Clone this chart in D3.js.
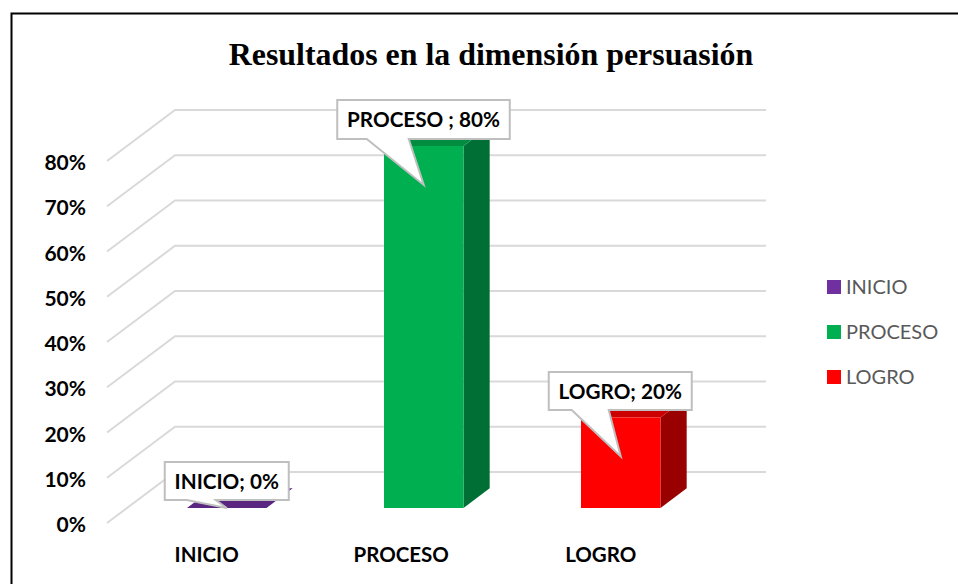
<!DOCTYPE html>
<html>
<head>
<meta charset="utf-8">
<script src="https://cdn.jsdelivr.net/npm/d3@7"></script>
<style>
  html, body { margin: 0; padding: 0; background: #fff; }
  svg { display: block; }
</style>
</head>
<body>
<script>
const categories = ["INICIO", "PROCESO", "LOGRO"]
const values = [0, 80, 20]
const tickValues = [0, 10, 20, 30, 40, 50, 60, 70, 80]
const calloutLabels = ["INICIO; 0%", "PROCESO ; 80%", "LOGRO; 20%"]

const titleText = "Resultados en la dimensión persuasión"

const faceColors = ["#7030a0", "#00b050", "#ff0000"]
const topColors = ["#5a2680", "#008d40", "#cc0000"]
const sideColors = ["#4a1f6a", "#006f35", "#990000"]

const width = 958
const height = 584
const sansFont = "Lato, 'Open Sans', sans-serif"

const svg = d3.select("body").append("svg")
    .attr("xmlns", "http://www.w3.org/2000/svg")
    .attr("width", width)
    .attr("height", height)

// outer frame: only left and top are in the picture
svg.append("path")
    .attr("d", "M11.5,584V13.5H958")
    .attr("fill", "none")
    .attr("stroke", "#000")
    .attr("stroke-width", 2)

svg.append("text")
    .attr("x", 491)
    .attr("y", 65)
    .attr("text-anchor", "middle")
    .style("font-family", "'Liberation Serif', serif")
    .style("font-weight", "bold")
    .style("font-size", "31.9px")
    .text(titleText)

// y scale lives on the front plane of the 3d box, depth shifts it back
const y = d3.scaleLinear().domain([0, 80]).range([523, 161])
const x = d3.scaleBand().domain(categories).range([187, 660.5]).paddingInner(117.5 / 197).paddingOuter(0)

const depthX = 68
const depthY = 51
const proj = (px, value, depth) => [px + depthX * depth, y(value) - depthY * depth]

const barFront = 0.295
const barBack = 0.68
const wallRight = 766
const floorLeft = 107

const grid = svg.append("g")
tickValues.forEach(t => {
    const a = proj(floorLeft, t, 0)
    const b = proj(floorLeft, t, 1)
    grid.append("path")
        .attr("d", d3.line()([a, b, [wallRight, b[1]]]))
        .attr("fill", "none")
        .attr("stroke", "#d9d9d9")
        .attr("stroke-width", 2)
})

svg.append("g")
    .selectAll("text")
    .data(tickValues)
    .join("text")
    .attr("x", 86)
    .attr("y", d => y(d) + 9)
    .attr("text-anchor", "end")
    .style("font-family", sansFont)
    .style("font-weight", "bold")
    .style("font-size", "21px")
    .text(d => d + "%")

const off = depthX * barFront
const bars = svg.append("g")
categories.forEach((c, i) => {
    const x0 = x(c)
    const x1 = x0 + x.bandwidth()
    const v = values[i]
    const p = (px, val, d) => proj(px - off, val, d)
    const poly = (pts, fill) => bars.append("polygon")
        .attr("points", pts.map(q => q.join(",")).join(" "))
        .attr("fill", fill)
    if (v > 0) {
        poly([p(x1, 0, barFront), p(x1, 0, barBack), p(x1, v, barBack), p(x1, v, barFront)], sideColors[i])
        poly([p(x0, v, barFront), p(x1, v, barFront), p(x1, v, barBack), p(x0, v, barBack)], topColors[i])
        poly([p(x0, 0, barFront), p(x1, 0, barFront), p(x1, v, barFront), p(x0, v, barFront)], faceColors[i])
    } else {
        poly([p(x0, v, barFront), p(x1, v, barFront), p(x1, v, barBack), p(x0, v, barBack)], topColors[i])
    }
})

// category labels sit on the front plane, so they are shifted left of the bars
svg.append("g")
    .selectAll("text")
    .data(categories)
    .join("text")
    .attr("x", d => x(d) + x.bandwidth() / 2 - off - (d === "PROCESO" ? 2.5 : 0))
    .attr("y", 562)
    .attr("text-anchor", "middle")
    .style("font-family", sansFont)
    .style("font-weight", "bold")
    .style("font-size", "20.5px")
    .text(d => d)

// callouts: box offsets from the bar centre, tip sits on the front face
const calloutBox = [
    { dx: -62, w: 124, top: 462, h: 38, b0: -40, b1: -11 },
    { dx: -86.5, w: 172.5, top: 100, h: 39, b0: -57, b1: -15 },
    { dx: -72, w: 143, top: 372, h: 38, b0: -49, b1: -12 }
]
const baseY = y(0) - depthY * barFront
categories.forEach((c, i) => {
    const cx = x(c) + x.bandwidth() / 2
    const faceTop = y(values[i]) - depthY * barFront
    const tipY = Math.min(faceTop + 39, baseY)
    const b = calloutBox[i]
    const l = cx + b.dx, r = l + b.w, t = b.top, bt = t + b.h
    svg.append("path")
        .attr("d", d3.line()([[l, t], [r, t], [r, bt], [cx + b.b1, bt], [cx, tipY], [cx + b.b0, bt], [l, bt]]) + "Z")
        .attr("fill", "#fff")
        .attr("stroke", "#bfbfbf")
        .attr("stroke-width", 2)
    svg.append("text")
        .attr("x", l + b.w / 2)
        .attr("y", t + b.h / 2 + 7.5)
        .attr("text-anchor", "middle")
        .style("font-family", sansFont)
        .style("font-weight", "bold")
        .style("font-size", "20.7px")
        .text(calloutLabels[i])
})

const legendY = d3.scalePoint().domain(categories).range([287, 377])
const legend = svg.append("g")
categories.forEach((c, i) => {
    legend.append("rect")
        .attr("x", 827)
        .attr("y", legendY(c) - 7)
        .attr("width", 14)
        .attr("height", 14)
        .attr("fill", faceColors[i])
    legend.append("text")
        .attr("x", 846)
        .attr("y", legendY(c) + 7)
        .attr("fill", "#595959")
        .style("font-family", sansFont)
        .style("font-size", "20px")
        .text(c)
})
</script>
</body>
</html>
